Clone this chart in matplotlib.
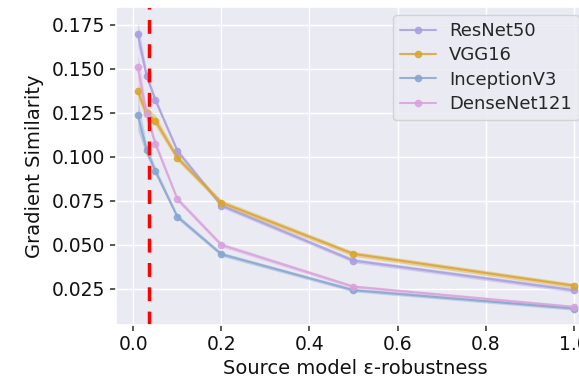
import numpy as np
import matplotlib
matplotlib.use("Agg")
import matplotlib.pyplot as plt
import seaborn as sns

sns.set_theme(style="darkgrid")
plt.rcParams['font.family'] = ['DejaVu Sans']

# source model robustness levels
eps = [0.01, 0.03, 0.05, 0.1, 0.2, 0.5, 1.0]

# mean gradient similarity per target model
resnet50 = [0.1697, 0.1460, 0.1322, 0.1034, 0.0723, 0.0411, 0.0243]
vgg16 = [0.1371, 0.1248, 0.1205, 0.0994, 0.0740, 0.0449, 0.0269]
inception_v3 = [0.1239, 0.1038, 0.0919, 0.0660, 0.0447, 0.0243, 0.0139]
densenet121 = [0.1511, 0.1240, 0.1074, 0.0760, 0.0500, 0.0263, 0.0148]

# spread of the shaded band around each mean
resnet50_sd = [0.0070, 0.0025, 0.0018, 0.0014, 0.0012, 0.0012, 0.0012]
vgg16_sd = [0.0045, 0.0035, 0.0030, 0.0018, 0.0016, 0.0014, 0.0014]
inception_v3_sd = [0.0090, 0.0035, 0.0022, 0.0014, 0.0012, 0.0010, 0.0010]
densenet121_sd = [0.0080, 0.0035, 0.0022, 0.0014, 0.0012, 0.0010, 0.0010]

eps_threshold = 0.036

series = [
    ("ResNet50", resnet50, resnet50_sd, "#a89ee0"),
    ("VGG16", vgg16, vgg16_sd, "#d9a62c"),
    ("InceptionV3", inception_v3, inception_v3_sd, "#86a6cf"),
    ("DenseNet121", densenet121, densenet121_sd, "#d9a2dc"),
]

fig = plt.figure(figsize=(5.79, 3.82), dpi=100)
ax = fig.add_axes([0.2003, 0.149, 0.828, 0.8327])

for name, vals, sd, col in series:
    vals = np.array(vals)
    sd = np.array(sd)
    ax.fill_between(eps, vals - sd, vals + sd, color=col, alpha=0.4, lw=0)
    ax.plot(eps, vals, color=col, marker="o", markersize=4.5, lw=1.5,
            alpha=0.85, label=name)

ax.axvline(eps_threshold, color="red", ls=(0, (4, 3)), lw=2.5)

ax.set_xlim(-0.0395, 1.0495)
ax.set_ylim(0.0045, 0.185)
ax.set_xticks([0.0, 0.2, 0.4, 0.6, 0.8, 1.0])
ax.set_yticks([0.025, 0.05, 0.075, 0.1, 0.125, 0.15, 0.175])
ax.tick_params(axis="both", labelsize=13.5, length=4, color="#444444",
               labelcolor="#111111", left=True, bottom=True)
ax.set_xlabel("Source model ε-robustness", fontsize=14, labelpad=3,
              color="#111111")
ax.set_ylabel("Gradient Similarity", fontsize=14, labelpad=6,
              color="#111111")

# legend sits flush against the right side of the picture, as in the source
ax.legend(loc="upper left", bbox_to_anchor=(0.679, 0.961),
          bbox_transform=fig.transFigure, borderaxespad=0, fontsize=13,
          frameon=True, handlelength=2.0, handletextpad=0.7,
          labelspacing=0.35)

fig.savefig("out.png", dpi=100)
